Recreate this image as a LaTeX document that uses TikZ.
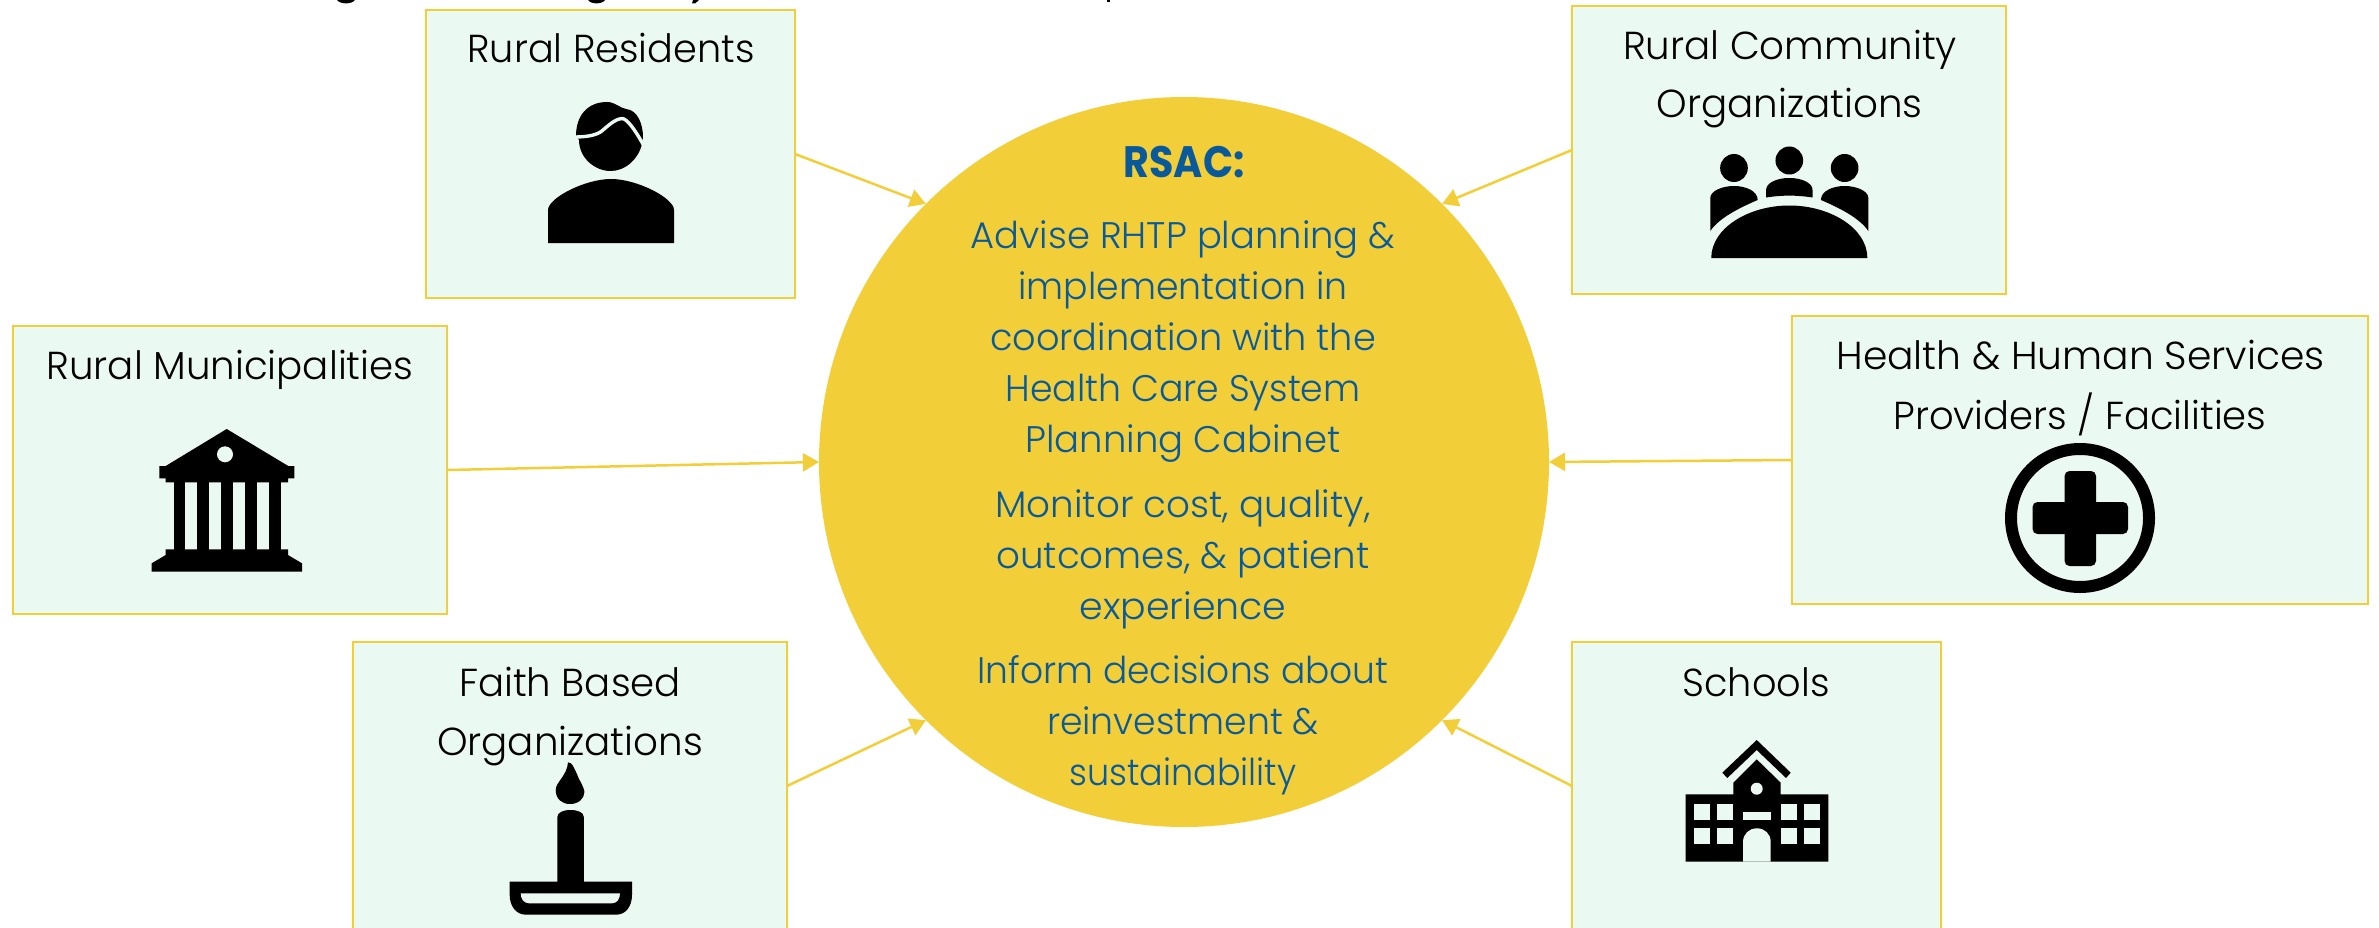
\documentclass[tikz,border=0pt]{standalone}
\usepackage{fontspec}
\usepackage{graphicx}
\setmainfont{Poppins}[UprightFont=* Light,BoldFont=* Bold]
\usetikzlibrary{arrows.meta}
\definecolor{gold}{HTML}{F2CE39}
\definecolor{mint}{HTML}{EAF9F1}
\definecolor{rsacblue}{HTML}{0A5A9B}
\newcommand\fitw[2]{\resizebox{\dimexpr#1pt+3pt\relax}{\height}{#2}}
\tikzset{
  stakebox/.style={draw=gold,fill=mint,line width=2.5pt,inner sep=0pt,outer sep=0pt,minimum height=288pt},
  hubdisc/.style={circle,fill=gold,inner sep=0pt,outer sep=0pt,minimum size=730pt},
  link/.style={draw=gold,line width=2.5pt,-{Triangle[length=16pt,width=18pt,fill=gold]}},
  lab/.style={inner sep=0pt,outer sep=0pt,anchor=base,text=black,font=\fontsize{39}{45}\selectfont},
  hubtext/.style={inner sep=0pt,outer sep=0pt,anchor=base,text=rsacblue,font=\fontsize{37}{45}\selectfont},
  hubhead/.style={inner sep=0pt,outer sep=0pt,anchor=base,text=rsacblue,font=\bfseries\fontsize{44}{50}\selectfont},
  ink/.style={fill=black},
  gap/.style={fill=mint}
}
\begin{document}
\begin{tikzpicture}[x=1pt,y=-1pt]
\useasboundingbox (0,0) rectangle (2379,928);
\clip (0,0) rectangle (2379,928);

% clipped remains of a line of text along the top edge
\fill[black] (337,0) .. controls (340,4.5) and (352,4.5) .. (355,0) -- cycle;
\fill[black] (588,0) .. controls (591,4.5) and (602,4.5) .. (605,0) -- cycle;
\fill[black] (693,0) -- (699,0) -- (695,3.5) -- (692,3.5) -- cycle;
\fill[black] (1106.5,0) rectangle (1109.5,2.5);

% boxes and hub
\node[hubdisc] (hub) at (1184,462) {};
\node[stakebox,minimum width=369pt] (res) at (610.5,154) {};
\node[stakebox,minimum width=434pt] (com) at (1789,150) {};
\node[stakebox,minimum width=434pt] (mun) at (230,470) {};
\node[stakebox,minimum width=576pt] (hhs) at (2080,460) {};
\node[stakebox,minimum width=434pt] (fai) at (570,786) {};
\node[stakebox,minimum width=369pt] (sch) at (1756.5,786) {};

% connectors
\draw[link] (res.east) -- (hub.135);
\draw[link] (com.west) -- (hub.45);
\draw[link] (mun.east) -- (hub.180);
\draw[link] (hhs.west) -- (hub.0);
\draw[link] (fai.east) -- (hub.225);
\draw[link] (sch.west) -- (hub.315);

% box labels
\node[lab] (lres) at (611,63) {\fitw{284}{Rural Residents}};
\node[lab] (lcoma) at (1790,60) {\fitw{331}{Rural Community}};
\node[lab] (lcomb) at (1789.5,118) {\fitw{263}{Organizations}};
\node[lab] (lmun) at (230,379) {\fitw{364}{Rural Municipalities}};
\node[lab] (lhhsa) at (2080.5,369) {\fitw{485}{Health \& Human Services}};
\node[lab] (lhhsb) at (2080,429) {\fitw{370}{Providers / Facilities}};
\node[lab] (lfaia) at (570,696) {\fitw{219}{Faith Based}};
\node[lab] (lfaib) at (570,755) {\fitw{263}{Organizations}};
\node[lab] (lsch) at (1756,696) {\fitw{144}{Schools}};

% hub text
\node[hubhead] (h0) at (1184,178) {\fitw{118}{RSAC:}};
\node[hubtext] (h1) at (1183,248) {\fitw{422}{Advise RHTP planning \&}};
\node[hubtext] (h2) at (1183,299) {\fitw{326}{implementation in}};
\node[hubtext] (h3) at (1183,350) {\fitw{383}{coordination with the}};
\node[hubtext] (h4) at (1183,401) {\fitw{352}{Health Care System}};
\node[hubtext] (h5) at (1183,452) {\fitw{312}{Planning Cabinet}};
\node[hubtext] (h6) at (1183,517) {\fitw{372}{Monitor cost, quality,}};
\node[hubtext] (h7) at (1183,568) {\fitw{370}{outcomes, \& patient}};
\node[hubtext] (h8) at (1183,619) {\fitw{204}{experience}};
\node[hubtext] (h9) at (1183,683) {\fitw{408}{Inform decisions about}};
\node[hubtext] (h10) at (1183,734) {\fitw{269}{reinvestment \&}};
\node[hubtext] (h11) at (1183,785) {\fitw{224}{sustainability}};

% person icon
\fill[ink] (548,243) -- (548,210) .. controls (548,198) and (585,179) .. (611,179)
  .. controls (637,179) and (674,198) .. (674,210) -- (674,243) -- cycle;
\fill[ink] (576,136) .. controls (576,115) and (588,102) .. (607,102)
  .. controls (615,102) and (620,108) .. (626,109)
  .. controls (638,110) and (643,125) .. (643,137) -- (642,144)
  .. controls (638,160) and (625,171) .. (610.5,171)
  .. controls (595,171) and (579,158) .. (579,140) -- cycle;
\draw[draw=mint,line width=3.4pt] (574,137) .. controls (584,137) and (597,136) .. (603,130)
  .. controls (610,124) and (618,117) .. (624,119)
  .. controls (630,122) and (638,135) .. (644,146);

% meeting icon
\begin{scope}[xshift=1789.3pt,xscale=0.988,xshift=-1793pt]
\fill[ink] (1714,258) .. controls (1714,228) and (1752,205.5) .. (1793,205.5)
  .. controls (1834,205.5) and (1872,228) .. (1872,258) -- cycle;
\fill[ink] (1793,160.5) ellipse (14 and 14);
\fill[ink] (1737,168) ellipse (14 and 14);
\fill[ink] (1849,168) ellipse (14 and 14);
\fill[ink] (1769.5,197.5) -- (1769.5,190) .. controls (1769.5,183) and (1780,178) .. (1793,178)
  .. controls (1806,178) and (1816.5,183) .. (1816.5,190) -- (1816.5,197.5)
  .. controls (1800,195) and (1786,195) .. (1769.5,197.5) -- cycle;
\fill[ink] (1713,231) -- (1713,198) .. controls (1713,191) and (1725,186) .. (1737,186)
  .. controls (1749,186) and (1761,191) .. (1761,200)
  .. controls (1742,208) and (1722,218) .. (1713,231) -- cycle;
\fill[ink] (1873,231) -- (1873,198) .. controls (1873,191) and (1861,186) .. (1849,186)
  .. controls (1837,186) and (1825,191) .. (1825,200)
  .. controls (1844,208) and (1864,218) .. (1873,231) -- cycle;
\end{scope}

% health icon
\draw[black,line width=12pt] (2080,518) circle (69);
\fill[ink,rounded corners=5pt] (2064.5,471) rectangle (2096,566);
\fill[ink,rounded corners=5pt] (2032.5,502) rectangle (2128,534);

% civic building icon
\fill[ink] (226.7,429) -- (288.3,466) -- (294.3,466) -- (294.3,478.3) -- (288,478.3) -- (288,482.3)
  -- (165.7,482.3) -- (165.7,478.3) -- (159.3,478.3) -- (159.3,466) -- (165.7,466) -- cycle;
\fill[gap] (225,454.3) circle (8);
\fill[ink] (173.7,482) rectangle (185.3,550);
\fill[ink] (197.3,482) rectangle (209,550);
\fill[ink] (221,482) rectangle (233,550);
\fill[ink] (245,482) rectangle (256.7,550);
\fill[ink] (268.7,482) rectangle (280.7,550);
\fill[ink] (165.7,549.3) -- (288,549.3) -- (288,555) -- (302,563.3) -- (302,571.7)
  -- (151.7,571.7) -- (151.7,563.3) -- (165.7,555) -- cycle;

% candle icon
\fill[ink] (568,762.3) .. controls (572,761) and (576,772) .. (579,779)
  .. controls (583,786) and (584.4,790) .. (584.4,792)
  .. controls (584.4,799) and (578,804) .. (570,804)
  .. controls (562,804) and (555.7,799) .. (555.7,790)
  .. controls (555.7,782) and (567,776) .. (568,762.3) -- cycle;
\fill[ink] (557.4,882) -- (557.4,817) .. controls (557.4,812.5) and (563,810) .. (570.5,810)
  .. controls (578,810) and (583.8,812.5) .. (583.8,817) -- (583.8,882) -- cycle;
\fill[ink] (509.7,881.7) -- (632,881.7) -- (632,895)
  .. controls (632,906) and (626,914.7) .. (616,914.7) -- (526,914.7)
  .. controls (516,914.7) and (509.7,906) .. (509.7,895) -- cycle;
\fill[gap] (520.7,893.3) -- (620,893.3) .. controls (620,899) and (617,903.3) .. (612,903.3)
  -- (529,903.3) .. controls (524,903.3) and (520.7,899) .. (520.7,893.3) -- cycle;

% school icon
\fill[ink] (1756.7,740) -- (1790.7,772.7) -- (1786,778) -- (1756.7,750) -- (1727.3,778) -- (1722.3,772.7) -- cycle;
\fill[ink] (1756.7,759.3) -- (1780.7,782.7) -- (1780.7,794.3) -- (1828.3,794.3) -- (1828.3,861.7)
  -- (1685.7,861.7) -- (1685.7,794.3) -- (1733.3,794.3) -- (1733.3,782.7) -- cycle;
\fill[gap] (1756.7,788.7) circle (6);
\foreach \xa/\xb in {1693.7/1709.7,1717.3/1733.3,1780.7/1796.7,1804.3/1820.3}{
  \fill[gap] (\xa,804.3) rectangle (\xb,820.3);
  \fill[gap] (\xa,828.3) rectangle (\xb,844.3);
}
\fill[gap] (1743,812.3) rectangle (1770.7,820.3);
\fill[gap] (1743,861.7) -- (1743,842) .. controls (1743,834) and (1749,828.3) .. (1756.85,828.3)
  .. controls (1765,828.3) and (1770.7,834) .. (1770.7,842) -- (1770.7,861.7) -- cycle;
\end{tikzpicture}
\end{document}
